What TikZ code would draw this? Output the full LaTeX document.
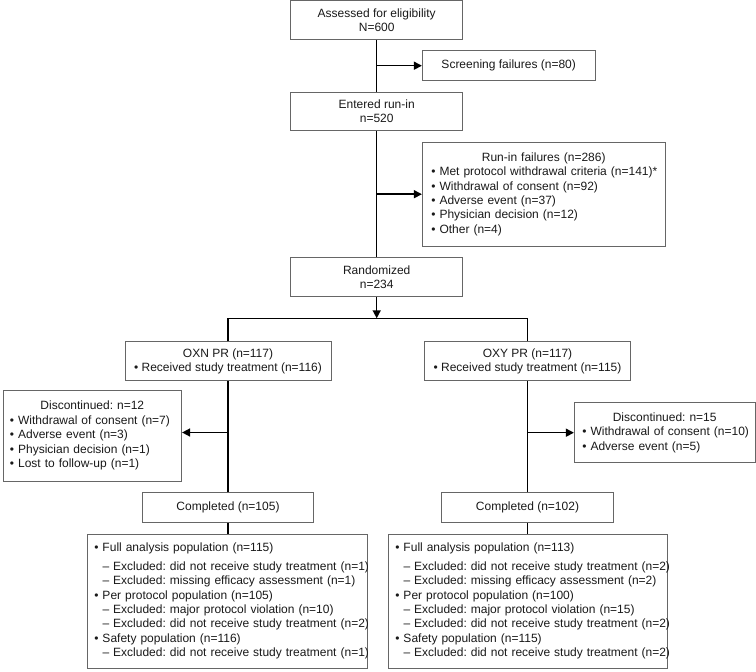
\documentclass[tikz,border=0pt]{standalone}
\usepackage{fontspec}
\setmainfont{Liberation Sans}
\usetikzlibrary{arrows.meta}
\newcommand\fsz{\fontsize{12pt}{14.4pt}\selectfont\frenchspacing}
\newcommand\bitem[2]{\hspace*{#1}\mbox{•\ #2}}
\newcommand\dsub[2]{\hspace*{#1}\mbox{\phantom{•\ }--\ #2}}
\newcommand\ttl[1]{\makebox[\hsize][c]{#1}}
\begin{document}
\begin{tikzpicture}[x=1pt,y=-1pt,
  box/.style={draw=black!60, line width=0.9pt, text=black!90, inner sep=0pt, align=center, font=\fsz},
  listbox/.style={box, align=left},
  conn/.style={draw=black, line width=1.5pt},
  arr/.style={conn, -{Triangle[length=8pt,width=8pt]}}]
\useasboundingbox (0,0) rectangle (756,672);

\node[box, minimum width=172pt, minimum height=38.6pt] (assess) at (376.7,20) {Assessed for eligibility\\N=600};
\node[box, minimum width=172.7pt, minimum height=30pt] (screen) at (508.7,65.7) {Screening failures (n=80)};
\node[box, minimum width=172pt, minimum height=38.4pt] (entered) at (376.7,111.5) {Entered run-in\\n=520};
\node[listbox, text width=242.7pt, minimum height=103.7pt] (fail) at (543.7,194.2) {\ttl{Run-in failures (n=286)}\\
\bitem{9pt}{Met protocol withdrawal criteria (n=141)*}\\
\bitem{9pt}{Withdrawal of consent (n=92)}\\
\bitem{9pt}{Adverse event (n=37)}\\
\bitem{9pt}{Physician decision (n=12)}\\
\bitem{9pt}{Other (n=4)}};
\node[box, minimum width=172pt, minimum height=39pt] (rand) at (376.7,277.2) {Randomized\\n=234};

\node[box, minimum width=206pt, minimum height=39pt] (oxn) at (228,361.2) {OXN PR (n=117)\\• Received study treatment (n=116)};
\node[box, minimum width=206.7pt, minimum height=39pt] (oxy) at (527.5,361.2) {OXY PR (n=117)\\• Received study treatment (n=115)};

\node[listbox, text width=178.7pt, minimum height=91pt] (discL) at (92.3,435.5) {\ttl{Discontinued: n=12}\\
\bitem{7pt}{Withdrawal of consent (n=7)}\\
\bitem{7pt}{Adverse event (n=3)}\\
\bitem{7pt}{Physician decision (n=1)}\\
\bitem{7pt}{Lost to follow-up (n=1)}};
\node[listbox, text width=180.7pt, minimum height=60pt] (discR) at (664.7,432.7) {\ttl{Discontinued: n=15}\\
\bitem{8pt}{Withdrawal of consent (n=10)}\\
\bitem{8pt}{Adverse event (n=5)}};

\node[box, minimum width=171.6pt, minimum height=29.6pt] (compL) at (228,507.5) {Completed (n=105)};
\node[box, minimum width=172.3pt, minimum height=29.6pt] (compR) at (527.5,507.5) {Completed (n=102)};

\node[listbox, text width=280pt, minimum height=133.7pt] (popL) at (227.3,601.2) {\vspace*{4pt}%
\bitem{7pt}{Full analysis population (n=115)}\\
\dsub{7pt}{Excluded: did not receive study treatment (n=1)}\\
\dsub{7pt}{Excluded: missing efficacy assessment (n=1)}\\
\bitem{7pt}{Per protocol population (n=105)}\\
\dsub{7pt}{Excluded: major protocol violation (n=10)}\\
\dsub{7pt}{Excluded: did not receive study treatment (n=2)}\\
\bitem{7pt}{Safety population (n=116)}\\
\dsub{7pt}{Excluded: did not receive study treatment (n=1)}};
\node[listbox, text width=279pt, minimum height=133.7pt] (popR) at (527.8,601.2) {\vspace*{4pt}%
\bitem{7pt}{Full analysis population (n=113)}\\
\dsub{7pt}{Excluded: did not receive study treatment (n=2)}\\
\dsub{7pt}{Excluded: missing efficacy assessment (n=2)}\\
\bitem{7pt}{Per protocol population (n=100)}\\
\dsub{7pt}{Excluded: major protocol violation (n=15)}\\
\dsub{7pt}{Excluded: did not receive study treatment (n=2)}\\
\bitem{7pt}{Safety population (n=115)}\\
\dsub{7pt}{Excluded: did not receive study treatment (n=2)}};

\draw[conn] (assess.south) -- (entered.north);
\draw[arr] (assess.south |- screen.west) -- (screen.west);
\draw[conn] (entered.south) -- (rand.north);
\draw[arr] (entered.south |- fail.west) -- (fail.west);
\coordinate (split) at (376.7,318.3);
\draw[arr] (rand.south) -- (split);
\draw[conn] (oxn.north) |- (split) -| (oxy.north);
\draw[conn] (oxn.south) -- (oxn.south |- compL.north);
\coordinate (aL) at (228,432.5);
\draw[arr] (aL) -- (aL -| discL.east);
\draw[conn] (oxy.south) -- (oxy.south |- compR.north);
\coordinate (aR) at (527.5,432.7);
\draw[arr] (aR) -- (aR -| discR.west);
\draw[conn] (compL.south) -- (compL.south |- popL.north);
\draw[conn] (compR.south) -- (compR.south |- popR.north);
\end{tikzpicture}
\end{document}
